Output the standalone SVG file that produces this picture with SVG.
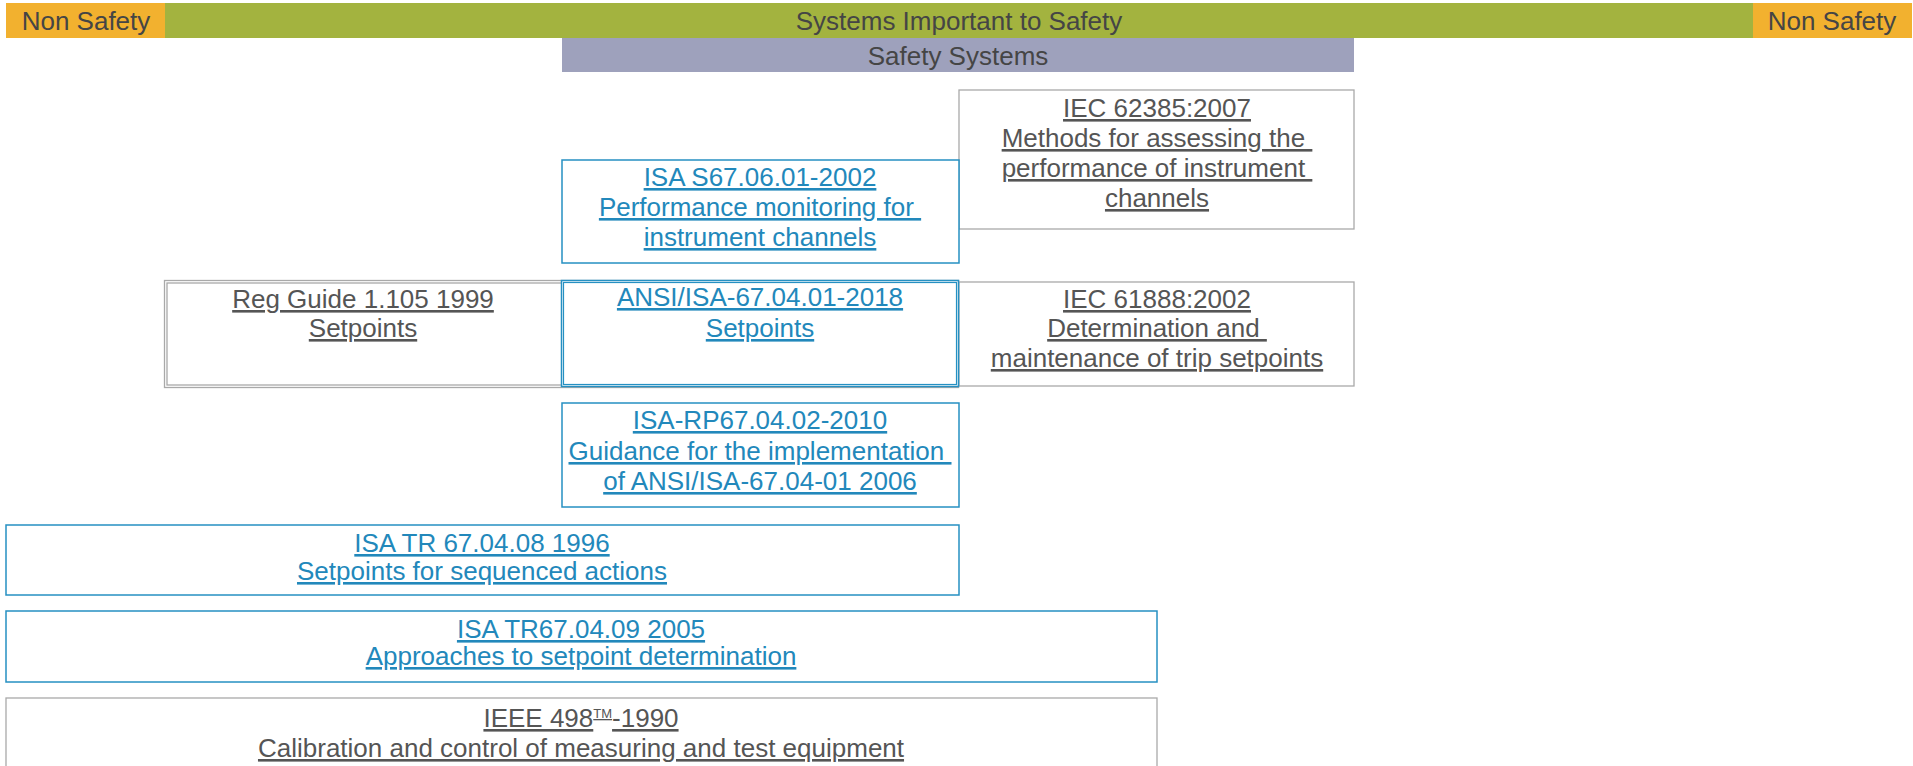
<svg xmlns="http://www.w3.org/2000/svg" width="1913" height="766" viewBox="0 0 1913 766">
<style>
text{font-family:"Liberation Sans",Arial,sans-serif;font-size:26px;text-anchor:middle}
.bar{fill:#454545}
.g{fill:#555555;text-decoration:underline}
.b{fill:#2288bb;text-decoration:underline}
.gb{fill:#fff;stroke:#a9a9a9;stroke-width:1.3}
.bb{fill:#fff;stroke:#2690c2;stroke-width:1.5}
.bbt{fill:none;stroke:#2690c2;stroke-width:1.2}
</style>
<rect width="1913" height="766" fill="#fff"/>
<g id="band-systems-important">
<rect x="165" y="3" width="1588" height="35" fill="#a3b33f"/>
<text class="bar" x="959" y="30">Systems Important to Safety</text>
</g>
<g id="band-non-safety-left">
<rect x="6" y="3" width="159" height="35" fill="#f2b12f"/>
<text class="bar" x="86" y="30">Non Safety</text>
</g>
<g id="band-non-safety-right">
<rect x="1753" y="3" width="159" height="35" fill="#f2b12f"/>
<text class="bar" x="1832" y="30">Non Safety</text>
</g>
<g id="band-safety-systems">
<rect x="562" y="38" width="792" height="34" fill="#9ea1bc"/>
<text class="bar" x="958" y="65">Safety Systems</text>
</g>
<g id="connectors"/>
<g id="iec62385">
<rect class="gb" x="959" y="90" width="395" height="139"/>
<text class="g" x="1157" y="117" xml:space="preserve">IEC 62385:2007</text>
<text class="g" x="1157" y="147" xml:space="preserve">Methods for assessing the </text>
<text class="g" x="1157" y="177" xml:space="preserve">performance of instrument </text>
<text class="g" x="1157" y="207" xml:space="preserve">channels</text>
</g>
<g id="isa-s67-06-01">
<rect class="bb" x="562" y="160" width="397" height="103"/>
<text class="b" x="760" y="186" xml:space="preserve">ISA S67.06.01-2002</text>
<text class="b" x="760" y="216" xml:space="preserve">Performance monitoring for </text>
<text class="b" x="760" y="246" xml:space="preserve">instrument channels</text>
</g>
<g id="reg-guide">
<rect class="gb" x="164.5" y="280.5" width="794" height="107"/>
<rect x="167" y="283" width="789" height="102" fill="none" stroke="#a9a9a9" stroke-width="1.3"/>
<text class="g" x="363" y="308" xml:space="preserve">Reg Guide 1.105 1999</text>
<text class="g" x="363" y="337" xml:space="preserve">Setpoints</text>
</g>
<g id="iec61888">
<rect class="gb" x="959" y="282" width="395" height="104"/>
<text class="g" x="1157" y="308" xml:space="preserve">IEC 61888:2002</text>
<text class="g" x="1157" y="337" xml:space="preserve">Determination and </text>
<text class="g" x="1157" y="367" xml:space="preserve">maintenance of trip setpoints</text>
</g>
<g id="ansi-isa-67-04-01">
<rect class="bb" x="561.5" y="280.5" width="397" height="106"/>
<rect class="bbt" x="563.5" y="282.5" width="393" height="102"/>
<text class="b" x="760" y="306" xml:space="preserve">ANSI/ISA-67.04.01-2018</text>
<text class="b" x="760" y="337" xml:space="preserve">Setpoints</text>
</g>
<g id="isa-rp67-04-02">
<rect class="bb" x="562" y="403" width="397" height="104"/>
<text class="b" x="760" y="429" xml:space="preserve">ISA-RP67.04.02-2010</text>
<text class="b" x="760" y="460" xml:space="preserve">Guidance for the implementation </text>
<text class="b" x="760" y="490" xml:space="preserve">of ANSI/ISA-67.04-01 2006</text>
</g>
<g id="isa-tr67-04-08">
<rect class="bb" x="6" y="525" width="953" height="70"/>
<text class="b" x="482" y="552" xml:space="preserve">ISA TR 67.04.08 1996</text>
<text class="b" x="482" y="580" xml:space="preserve">Setpoints for sequenced actions</text>
</g>
<g id="isa-tr67-04-09">
<rect class="bb" x="6" y="611" width="1151" height="71"/>
<text class="b" x="581" y="638" xml:space="preserve">ISA TR67.04.09 2005</text>
<text class="b" x="581" y="665" xml:space="preserve">Approaches to setpoint determination</text>
</g>
<g id="ieee-498">
<rect class="gb" x="6" y="698" width="1151" height="80"/>
<text class="g" x="581" y="727" xml:space="preserve">IEEE 498<tspan font-size="13" dy="-9">TM</tspan><tspan dy="9">-1990</tspan></text>
<text class="g" x="581" y="757" xml:space="preserve">Calibration and control of measuring and test equipment</text>
</g>
</svg>
